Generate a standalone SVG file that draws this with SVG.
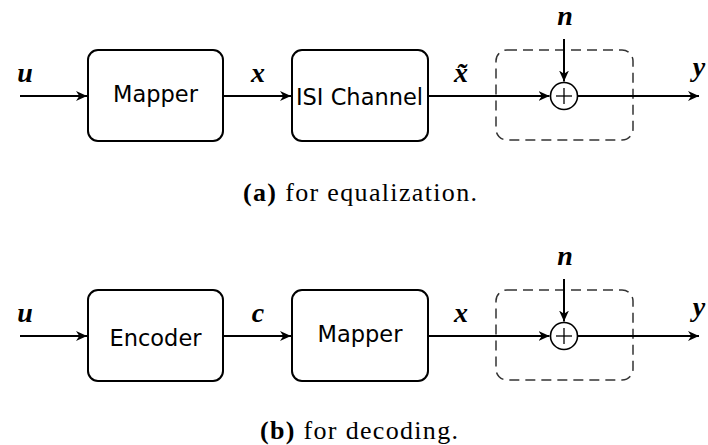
<svg xmlns="http://www.w3.org/2000/svg" width="708" height="445" viewBox="0 0 708 445">
<style>
.box{fill:none;stroke:#000;stroke-width:2}
.dash{fill:none;stroke:#333;stroke-width:1.5;stroke-dasharray:10 6}
.wire{fill:none;stroke:#000;stroke-width:2}
.sum{fill:#fff;stroke:#000;stroke-width:1.6}
.plus{stroke:#000;stroke-width:1.3}
.blk{font-family:"DejaVu Sans",sans-serif;font-size:22.5px;text-anchor:middle;fill:#000}
.m{font-family:"Liberation Serif",serif;font-style:italic;font-weight:bold;font-size:28px;fill:#000;text-anchor:middle}
.cap{font-family:"Liberation Serif",serif;font-size:26px;fill:#000}
</style>
<defs>
<marker id="ah" viewBox="0 0 10 10" refX="10" refY="5" markerWidth="5.5" markerHeight="5.5" orient="auto" markerUnits="strokeWidth">
<path d="M0,0.5 L10,5 L0,9.5 L3,5 z" fill="#000"/>
</marker>
</defs>

<g id="row-a">
<g id="a-mapper"><rect class="box" x="88" y="50" width="135" height="91" rx="10"/><text class="blk" x="155.5" y="102">Mapper</text></g>
<g id="a-isi"><rect class="box" x="292" y="50" width="136" height="91" rx="10"/><text class="blk" x="359.5" y="104.5">ISI Channel</text></g>
<g id="a-noise"><rect class="dash" x="496" y="50" width="137" height="90" rx="11"/><circle class="sum" cx="564" cy="96" r="13.5"/><line class="plus" x1="556" y1="96" x2="572" y2="96"/><line class="plus" x1="564" y1="88" x2="564" y2="104"/></g>
<g id="a-connectors">
<line class="wire" x1="20" y1="96" x2="87" y2="96" marker-end="url(#ah)"/>
<line class="wire" x1="224" y1="96" x2="291" y2="96" marker-end="url(#ah)"/>
<line class="wire" x1="429" y1="96" x2="549.5" y2="96" marker-end="url(#ah)"/>
<line class="wire" x1="564" y1="39" x2="564" y2="81.5" marker-end="url(#ah)"/>
<line class="wire" x1="577.5" y1="96" x2="699" y2="96" marker-end="url(#ah)"/>
</g>
<g id="a-labels">
<text class="m" x="25" y="82">u</text>
<text class="m" x="258" y="82">x</text>
<text class="m" x="461" y="82">x̃</text>
<text class="m" x="565" y="25">n</text>
<text class="m" x="699" y="76">y</text>
</g>
<text class="cap" x="243" y="201" textLength="234" lengthAdjust="spacing"><tspan font-weight="bold">(a)</tspan> for equalization.</text>
</g>

<g id="row-b">
<g id="b-encoder"><rect class="box" x="88" y="290" width="135" height="91" rx="10"/><text class="blk" x="155.5" y="345.5">Encoder</text></g>
<g id="b-mapper"><rect class="box" x="292" y="290" width="136" height="91" rx="10"/><text class="blk" x="360" y="342">Mapper</text></g>
<g id="b-noise"><rect class="dash" x="496" y="290" width="137" height="90" rx="11"/><circle class="sum" cx="564" cy="336" r="13.5"/><line class="plus" x1="556" y1="336" x2="572" y2="336"/><line class="plus" x1="564" y1="328" x2="564" y2="344"/></g>
<g id="b-connectors">
<line class="wire" x1="20" y1="336" x2="87" y2="336" marker-end="url(#ah)"/>
<line class="wire" x1="224" y1="336" x2="291" y2="336" marker-end="url(#ah)"/>
<line class="wire" x1="429" y1="336" x2="549.5" y2="336" marker-end="url(#ah)"/>
<line class="wire" x1="564" y1="279" x2="564" y2="321.5" marker-end="url(#ah)"/>
<line class="wire" x1="577.5" y1="336" x2="699" y2="336" marker-end="url(#ah)"/>
</g>
<g id="b-labels">
<text class="m" x="25" y="322">u</text>
<text class="m" x="258" y="322">c</text>
<text class="m" x="461" y="322">x</text>
<text class="m" x="565" y="265">n</text>
<text class="m" x="699" y="316">y</text>
</g>
<text class="cap" x="260" y="439" textLength="198" lengthAdjust="spacing"><tspan font-weight="bold">(b)</tspan> for decoding.</text>
</g>
</svg>
